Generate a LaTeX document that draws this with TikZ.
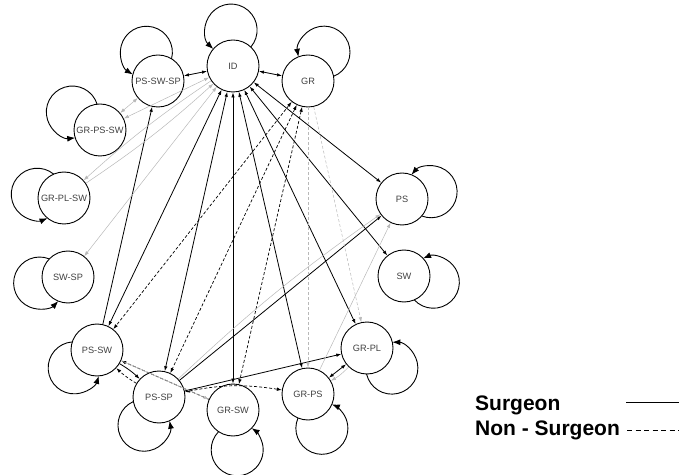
\documentclass[tikz,border=0pt]{standalone}
\usepackage{fontspec}
\setmainfont{Liberation Sans}
\usetikzlibrary{arrows.meta,calc}

\tikzset{
  state/.style={circle,draw,line width=0.9pt,minimum size=52pt,inner sep=0pt,
    font=\fontsize{9.2}{10}\selectfont,text=black!75},
  surgeon/.style={line width=0.8pt},
  nonsurgeon/.style={line width=0.7pt,dash pattern=on 3pt off 2pt},
  weak/.style={draw=black!28,line width=0.5pt},
  weakdash/.style={weak,dash pattern=on 3pt off 2pt},
  selfloop/.style={line width=0.9pt,-{Latex[length=8pt,width=6pt]}},
  legend/.style={font=\bfseries\fontsize{21}{21}\selectfont,anchor=west,inner sep=0pt}
}

\begin{document}
\begin{tikzpicture}[x=1pt,y=1pt,>={Latex[length=5pt,width=3.5pt]}]
      \useasboundingbox (0,0) rectangle (679,474);
      % the thirteen groups
      \node[state] (id)     at (233,408) {ID};
      \node[state] (gr)     at (308,393) {GR};
      \node[state] (pssws)  at (158,393) {PS-SW-SP};
      \node[state] (grpssw) at (100,344) {GR-PS-SW};
      \node[state] (grplsw) at (64,276)  {GR-PL-SW};
      \node[state] (swsp)   at (68,197)  {SW-SP};
      \node[state] (ps)     at (402,275) {PS};
      \node[state] (sw)     at (404,198) {SW};
      \node[state] (pssw)   at (97,124)  {PS-SW};
      \node[state] (pssp)   at (159,77)  {PS-SP};
      \node[state] (grsw)   at (233,64)  {GR-SW};
      \node[state] (grps)   at (308,80)  {GR-PS};
      \node[state] (grpl)   at (367,126) {GR-PL};

      % self loops, start/end angles worked out by hand (radius 26)
      \draw[selfloop] ($(id)+(93:36)+(319.2:26)$) arc[start angle=319.2,end angle=586.8,radius=26];
      \draw[selfloop] ($(pssws)+(112:31)+(345.4:26)$) arc[start angle=345.4,end angle=598.6,radius=26];
      \draw[selfloop] ($(gr)+(61:33)+(291.6:26)$) arc[start angle=291.6,end angle=550.4,radius=26];
      \draw[selfloop] ($(grpssw)+(147:33)+(377.6:26)$) arc[start angle=377.6,end angle=636.4,radius=26];
      \draw[selfloop] ($(grplsw)+(172:27)+(410.7:26)$) arc[start angle=410.7,end angle=653.3,radius=26];
      \draw[selfloop] ($(swsp)+(192:29)+(428.1:26)$) arc[start angle=428.1,end angle=675.9,radius=26];
      \draw[selfloop] ($(ps)+(14:30)+(248.8:26)$) arc[start angle=248.8,end angle=499.2,radius=26];
      \draw[selfloop] ($(sw)+(-12:30)+(222.8:26)$) arc[start angle=222.8,end angle=473.2,radius=26];
      \draw[selfloop] ($(grpl)+(-39:32)+(193:26)$) arc[start angle=193,end angle=449,radius=26];
      \draw[selfloop] ($(grps)+(-68:37)+(156.6:26)$) arc[start angle=156.6,end angle=427.4,radius=26];
      \draw[selfloop] ($(grsw)+(-84:40)+(135.7:26)$) arc[start angle=135.7,end angle=416.3,radius=26];
      \draw[selfloop] ($(pssp)+(-118:32)+(114:26)$) arc[start angle=114,end angle=370,radius=26];
      \draw[selfloop] ($(pssw)+(218:29)+(454.1:26)$) arc[start angle=454.1,end angle=701.9,radius=26];

      % surgeon links
      \draw[surgeon,<->] (id) -- (pssws);
      \draw[surgeon,<->] (id) -- (gr);
      \draw[surgeon,<->] (id) -- (ps);
      \draw[surgeon,<->] (id) -- (sw);
      \draw[surgeon,<->] (id) -- (grpl);
      \draw[surgeon,<->] (id) -- (grps);
      \draw[surgeon,<->] (id) -- (grsw);
      \draw[surgeon,<->] (id) -- (pssp);
      \draw[surgeon,<->] (id) -- (pssw);
      \draw[surgeon,<->] (grps) -- (grpl);
      \draw[surgeon,->] (pssw) -- (pssws);
      \draw[surgeon,->] (pssw) to[bend left=6] (pssp);
      \draw[surgeon,->] (pssp) -- (ps);
      \draw[surgeon,->] (pssp) -- (grpl);

      % non-surgeon links
      \draw[nonsurgeon,<->] (gr) -- (pssw);
      \draw[nonsurgeon,<->] (gr) -- (pssp);
      \draw[nonsurgeon,<->] (gr) -- (grsw);
      \draw[nonsurgeon,->] (pssp) to[bend left=6] (pssw);
      \draw[nonsurgeon,->] (grsw) -- (pssw);
      \draw[nonsurgeon,<->] (pssp) to[bend left=10] (grps);

      % faint links
      \draw[weak,<->] (id) -- (grpssw);
      \draw[weak,->] (id) to[bend right=4] (grplsw);
      \draw[weak,->] (grplsw) to[bend right=4] (id);
      \draw[weak,<->] (id) -- (swsp);
      \draw[weak,<->] (grpssw) -- (pssws);
      \draw[weak,->] (pssw) -- (grsw);
      \draw[weak,->] (pssp) to[bend left=4] (ps);
      \draw[weak,->] (grps) -- (ps);
      \draw[weakdash,->] (gr) -- (grps);
      \draw[weakdash,->] (gr) -- (grpl);
      \draw[weak,->] (grpl) to[bend left=8] (grps);

      % legend
      \node[legend] (lsurg) at (475,69) {Surgeon};
      \node[legend] (lnon)  at (475,44) {Non - Surgeon};
      \coordinate (lsurga) at (626,72);
      \coordinate (lsurgb) at (679,72);
      \coordinate (lnona)  at (627,44);
      \coordinate (lnonb)  at (679,44);
      \draw[line width=0.8pt] (lsurga) -- (lsurgb);
      \draw[line width=0.7pt,dash pattern=on 5pt off 3.5pt] (lnona) -- (lnonb);
\end{tikzpicture}
\end{document}
